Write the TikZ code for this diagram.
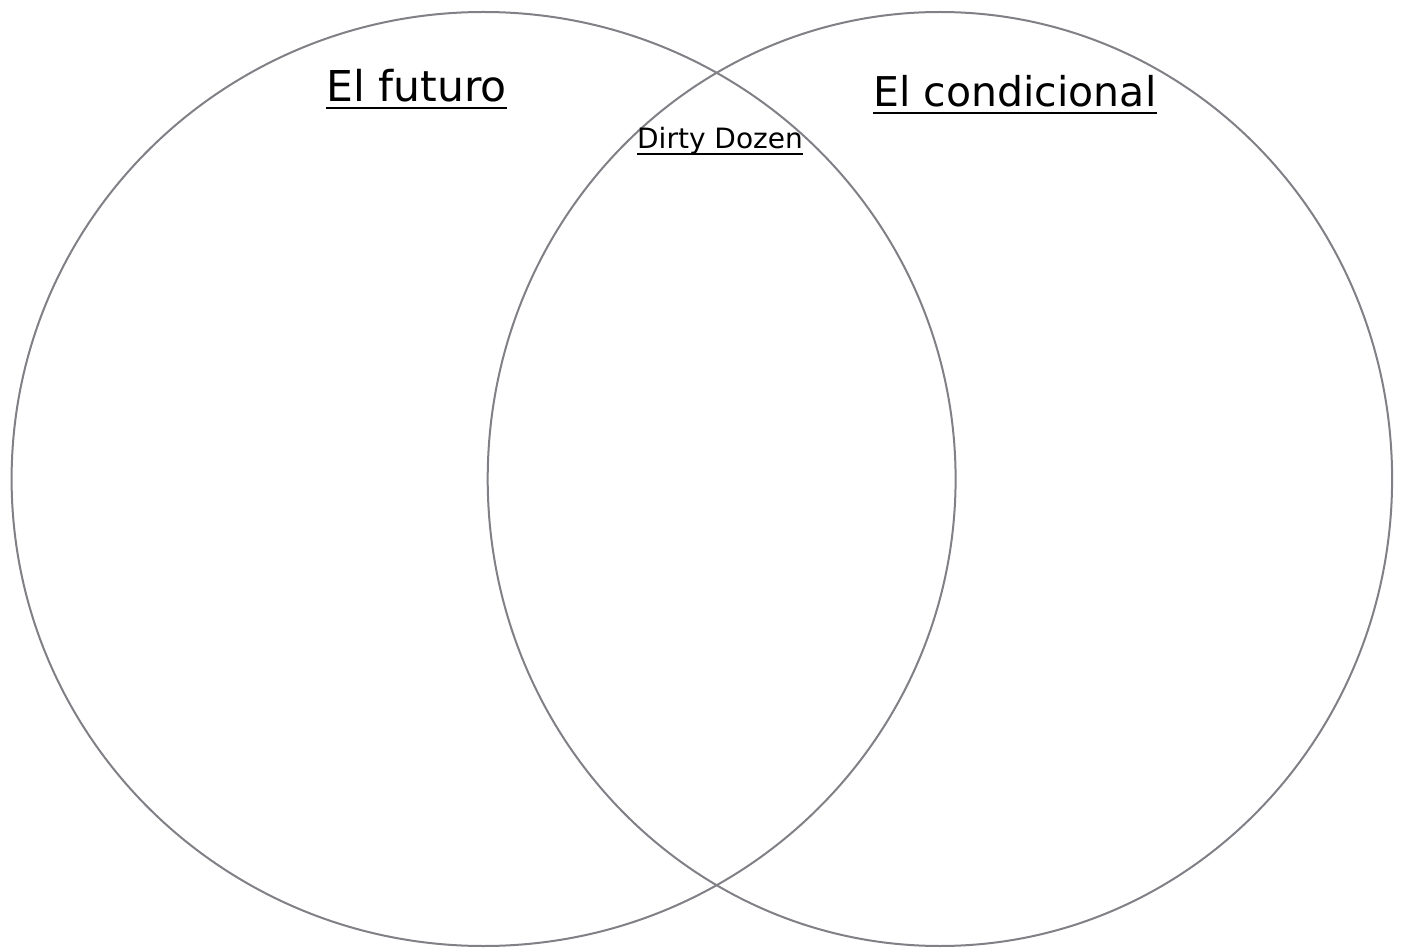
\documentclass[tikz,border=0pt]{standalone}
\usepackage{fontspec}
\setmainfont{DejaVu Sans}
\definecolor{ring}{RGB}{128,128,134}
\begin{document}
\begin{tikzpicture}[x=1pt,y=-1pt,
  ring/.style={draw=ring,line width=2pt},
  big/.style={font=\fontsize{42.5}{50}\selectfont,inner sep=0pt,anchor=base},
  mid/.style={font=\fontsize{41}{48}\selectfont,inner sep=0pt,anchor=base},
  small/.style={font=\fontsize{28}{32}\selectfont,inner sep=0pt,anchor=base}]
\useasboundingbox (0,0) rectangle (1401,949);
\draw[ring] (483.6,479) ellipse [x radius=472, y radius=467];
\draw[ring] (939.9,479) ellipse [x radius=452.2, y radius=467];
\node[big] (fut) at (416.5,102) {El futuro};
\node[mid] (cond) at (1015,107) {El condicional};
\node[small] (dd) at (720,149) {Dirty Dozen};
\draw[line width=2.5pt] ([yshift=-6pt]fut.base west) -- ([yshift=-6pt]fut.base east);
\draw[line width=2.5pt] ([yshift=-6pt]cond.base west) -- ([yshift=-6pt]cond.base east);
\draw[line width=1.8pt] ([yshift=-5pt]dd.base west) -- ([yshift=-5pt]dd.base east);
\end{tikzpicture}
\end{document}
